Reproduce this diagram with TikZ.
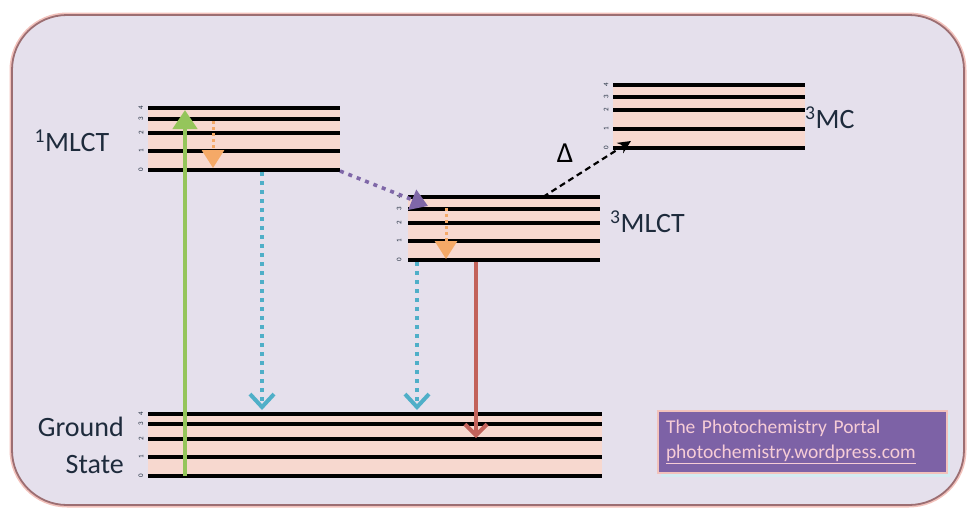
\documentclass[tikz,border=0pt]{standalone}
\usepackage{fontspec}
\setmainfont{Carlito}
\usetikzlibrary{arrows.meta}
\definecolor{bg}{HTML}{E5E0EC}
\definecolor{framec}{HTML}{9C6E72}
\definecolor{glow}{HTML}{F2C2BC}
\definecolor{band}{HTML}{F7D8CF}
\definecolor{cgreen}{HTML}{95C55B}
\definecolor{corange}{HTML}{F39A4C}
\definecolor{ccyan}{HTML}{4FAFC8}
\definecolor{cpurple}{HTML}{7F67A8}
\definecolor{cred}{HTML}{C2625A}
\definecolor{boxfill}{HTML}{7D62A6}
\definecolor{boxtext}{HTML}{F6CCD6}
\definecolor{lbl}{HTML}{1E2B3C}
\begin{document}
\begin{tikzpicture}[x=1pt,y=-1pt,
  level/.style={line width=3.6pt,black},
  bandfill/.style={fill=band},
  num/.style={font=\fontsize{7}{7}\selectfont,text=lbl,rotate=90,inner sep=0pt},
  statelbl/.style={font=\fontsize{28}{30}\selectfont,text=lbl,inner sep=0pt},
  dotline/.style={line width=3.6pt,dash pattern=on 4pt off 5pt},
  greenarrow/.style={line width=4.5pt,cgreen,-{Triangle[length=19pt,width=24pt]}},
  orangearrow/.style={line width=3pt,corange!85,dash pattern=on 3pt off 3pt,-{Triangle[length=18pt,width=22pt]}},
  cyanarrow/.style={dotline,ccyan,-{Straight Barb[length=13pt,width=24pt,line width=4pt]}},
  purplearrow/.style={dotline,cpurple,-{Triangle[length=17pt,width=21pt]}},
  redarrow/.style={line width=3.6pt,cred,-{Straight Barb[length=11pt,width=22pt,line width=4pt]}},
  blackarrow/.style={line width=2.2pt,black,dash pattern=on 6pt off 4pt,-{Stealth[length=13pt,width=12pt]}},
  portal/.style={fill=boxfill,draw=glow,line width=2pt,text=boxtext,align=left,
    font=\fontsize{19.5}{25}\selectfont,minimum width=289pt,minimum height=62pt,text width=272pt}
]
\useasboundingbox (0,0) rectangle (970,515);
% frame
\draw[glow,line width=5pt,rounded corners=55pt] (12,15) rectangle (964,505);
\draw[framec,fill=bg,line width=1.8pt,rounded corners=55pt] (12,15) rectangle (964,505);

% bands
\fill[bandfill] (148,108) rectangle (340,170);
\fill[bandfill] (408,197) rectangle (600,260);
\fill[bandfill] (613,85) rectangle (805,148);
\fill[bandfill] (148,414) rectangle (602,476);

% singlet MLCT levels
\foreach \n/\y in {0/170,1/151,2/133,3/119,4/108}{
  \draw[level] (148,\y) coordinate (sa\n) -- (340,\y) coordinate (sb\n);
  \node[num] at (141,\y) {\n};}
% triplet MLCT levels
\foreach \n/\y in {0/260,1/241,2/223,3/209,4/197}{
  \draw[level] (408,\y) coordinate (ta\n) -- (600,\y) coordinate (tb\n);
  \node[num] at (399,\y) {\n};}
% MC levels
\foreach \n/\y in {0/148,1/129,2/110,3/97,4/85}{
  \draw[level] (613,\y) coordinate (ma\n) -- (805,\y) coordinate (mb\n);
  \node[num] at (606,\y) {\n};}
% ground levels
\foreach \n/\y in {0/476,1/457,2/439,3/424,4/414}{
  \draw[level] (148,\y) coordinate (ga\n) -- (602,\y) coordinate (gb\n);
  \node[num] at (141,\y) {\n};}

% labels
\node[statelbl] (l1) at (72,141) {\textsuperscript{1}MLCT};
\node[statelbl,anchor=east] (lg1) at (124,427) {Ground};
\node[statelbl,anchor=east] (lg2) at (124,465) {State};
\node[statelbl,anchor=west] (l3) at (610,222) {\textsuperscript{3}MLCT};
\node[statelbl,anchor=west] (l4) at (805,118) {\textsuperscript{3}MC};
\node[font=\fontsize{29}{29}\selectfont,text=black] (delta) at (565,153) {Δ};

% arrow endpoints
\coordinate (g0) at (185,476);
\coordinate (g1) at (185,110);
\coordinate (o1a) at (213,121);
\coordinate (o1b) at (213,168);
\coordinate (c1a) at (262,172);
\coordinate (c1b) at (262,410);
\coordinate (p0) at (340,171);
\coordinate (p1) at (428,206);
\coordinate (o2a) at (446,208);
\coordinate (o2b) at (446,259);
\coordinate (c2a) at (417,262);
\coordinate (c2b) at (417,410);
\coordinate (r0) at (476,262);
\coordinate (r1) at (476,438);
\coordinate (d0) at (543,197);
\coordinate (d1) at (631,141);

\draw[greenarrow] (g0) -- (g1);
\draw[orangearrow] (o1a) -- (o1b);
\draw[cyanarrow] (c1a) -- (c1b);
\draw[purplearrow] (p0) -- (p1);
\draw[orangearrow] (o2a) -- (o2b);
\draw[cyanarrow] (c2a) -- (c2b);
\draw[redarrow] (r0) -- (r1);
\draw[blackarrow] (d0) -- (d1);

% portal box
\fill[ccyan!25] (661,415) rectangle (950,477);
\node[portal] (portal) at (802,442) {The Photochemistry Portal\\\underline{photochemistry.wordpress.com}};
\end{tikzpicture}
\end{document}
